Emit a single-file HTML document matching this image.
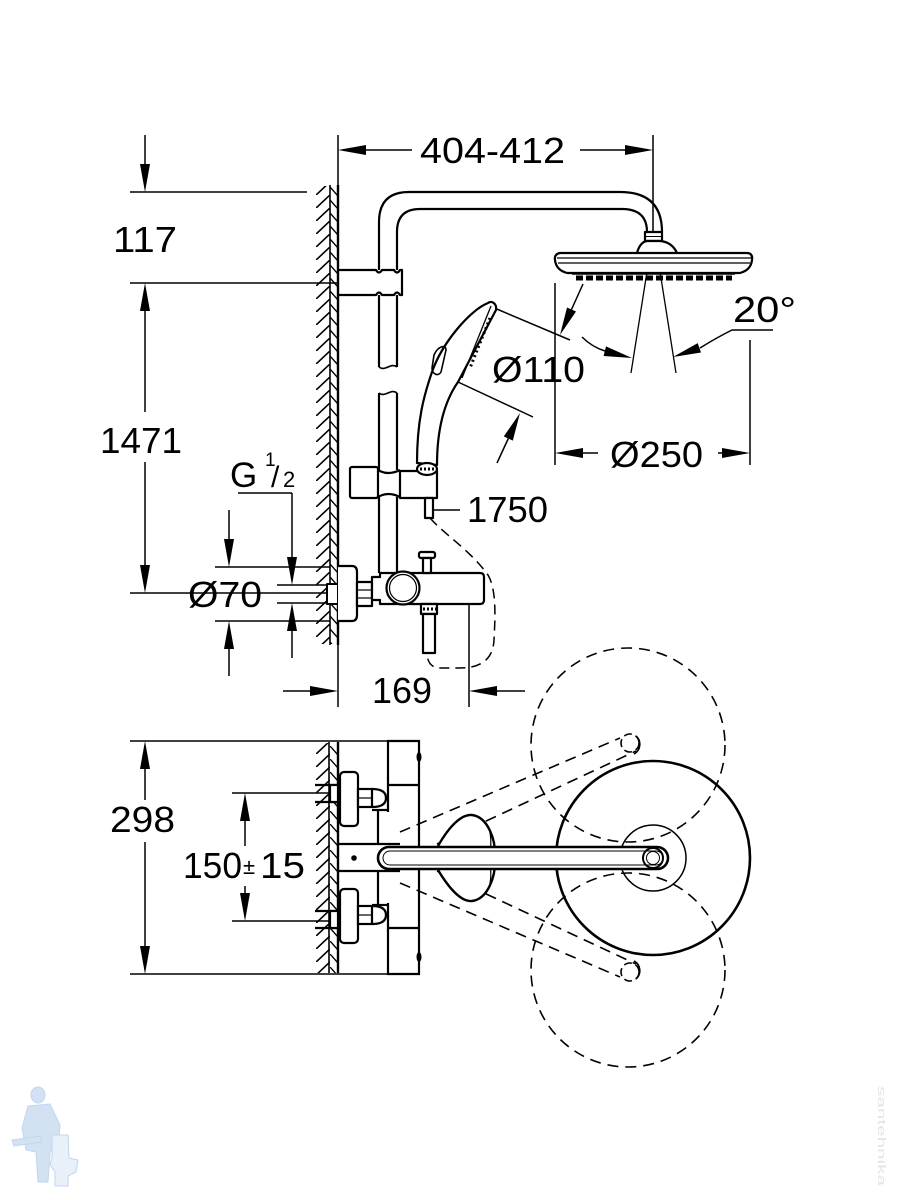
<!DOCTYPE html>
<html><head><meta charset="utf-8"><style>
html,body{margin:0;padding:0;background:#fff;}
svg{display:block;}
text{font-family:"Liberation Sans",Arial,sans-serif;fill:#000;}
</style></head><body>
<svg width="900" height="1200" viewBox="0 0 900 1200" xmlns="http://www.w3.org/2000/svg">
<defs>
<pattern id="h1" patternUnits="userSpaceOnUse" x="316" y="0" width="14" height="13"><path d="M-1,14 L15,-1" stroke="#000" stroke-width="1.6"/></pattern>
<pattern id="h2" patternUnits="userSpaceOnUse" x="330" y="5" width="8" height="13"><path d="M0,0 L8,9" stroke="#000" stroke-width="1.4"/></pattern>
</defs>
<rect width="900" height="1200" fill="#fff"/>

<!-- WALLS -->
<rect x="316" y="186" width="14" height="458" fill="url(#h1)"/>
<rect x="330" y="186" width="8" height="458" fill="url(#h2)"/>
<rect x="316" y="743" width="13" height="230" fill="url(#h1)"/>
<rect x="329" y="743" width="9" height="230" fill="url(#h2)"/>
<g stroke="#000" fill="none">
<line x1="330" y1="185" x2="330" y2="645" stroke-width="1.6"/>
<line x1="338" y1="185" x2="338" y2="645" stroke-width="2.4"/>
<line x1="329" y1="742" x2="329" y2="973" stroke-width="1.6"/>
<line x1="338" y1="742" x2="338" y2="973" stroke-width="2.4"/>
</g>

<!-- DIMENSIONS -->
<g stroke="#000" stroke-width="1.5" fill="none">
<!-- 117 / 1471 -->
<line x1="145" y1="135" x2="145" y2="165"/>
<line x1="130" y1="192" x2="307" y2="192"/>
<line x1="130" y1="283" x2="338" y2="283"/>
<line x1="145" y1="311" x2="145" y2="412"/>
<line x1="145" y1="462" x2="145" y2="566"/>
<line x1="130" y1="593" x2="330" y2="593"/>
<!-- Ø70 -->
<line x1="229" y1="510" x2="229" y2="540"/>
<line x1="215" y1="567" x2="330" y2="567"/>
<line x1="215" y1="621" x2="330" y2="621"/>
<line x1="229" y1="648" x2="229" y2="676"/>
<!-- G1/2 -->
<line x1="238" y1="493" x2="292" y2="493"/>
<line x1="292" y1="493" x2="292" y2="558"/>
<line x1="292" y1="630" x2="292" y2="658"/>
<line x1="277" y1="585" x2="327" y2="585"/>
<line x1="277" y1="603" x2="327" y2="603"/>
<!-- 404-412 -->
<line x1="338" y1="135" x2="338" y2="186"/>
<line x1="338" y1="644" x2="338" y2="707"/>
<line x1="653" y1="135" x2="653" y2="232"/>
<line x1="365" y1="150" x2="412" y2="150"/>
<line x1="580" y1="150" x2="626" y2="150"/>
<!-- Ø250 -->
<line x1="555" y1="283" x2="555" y2="465"/>
<line x1="750" y1="340" x2="750" y2="465"/>
<line x1="582" y1="453" x2="598" y2="453"/>
<line x1="718" y1="453" x2="723" y2="453"/>
<!-- Ø110 -->
<line x1="492" y1="307" x2="570" y2="340"/>
<line x1="458" y1="382" x2="533" y2="417"/>
<line x1="583" y1="284" x2="571.5" y2="309.5"/>
<line x1="497" y1="463" x2="508.3" y2="438.5"/>
<!-- 20° -->
<line x1="652" y1="240" x2="631" y2="373" stroke-width="1.3"/>
<line x1="655" y1="240" x2="676" y2="373" stroke-width="1.3"/>
<path d="M582,337 Q592,347 605,351"/>
<path d="M773,330 L732,330 Q716,338 700,348"/>
<!-- 169 -->
<line x1="469" y1="604" x2="469" y2="707"/>
<line x1="283" y1="691" x2="311" y2="691"/>
<line x1="496" y1="691" x2="525" y2="691"/>
<!-- 1750 -->
<line x1="433" y1="510" x2="460" y2="510"/>
<!-- 298 -->
<line x1="130" y1="741" x2="388" y2="741"/>
<line x1="130" y1="974" x2="388" y2="974"/>
<line x1="145" y1="768" x2="145" y2="800"/>
<line x1="145" y1="842" x2="145" y2="947"/>
<!-- 150±15 -->
<line x1="232" y1="793" x2="330" y2="793"/>
<line x1="232" y1="921" x2="330" y2="921"/>
<line x1="245" y1="820" x2="245" y2="846"/>
<line x1="245" y1="886" x2="245" y2="894"/>
</g>

<!-- ARROWHEADS -->
<g fill="#000">
<polygon points="145,192 140,164 150,164"/>
<polygon points="145,283 140,311 150,311"/>
<polygon points="145,593 140,565 150,565"/>
<polygon points="229,567 224,539 234,539"/>
<polygon points="229,621 224,649 234,649"/>
<polygon points="292,585 287,557 297,557"/>
<polygon points="292,603 287,631 297,631"/>
<polygon points="338,150 366,145 366,155"/>
<polygon points="653,150 625,145 625,155"/>
<polygon points="555,453 583,448 583,458"/>
<polygon points="750,453 722,448 722,458"/>
<polygon points="560,335 576,311.5 567,307.5"/>
<polygon points="520,413 512.8,440.6 503.8,436.4"/>
<polygon points="632,358 603.6,356 606,346.4"/>
<polygon points="673,357 701,352.5 697.7,343.1"/>
<polygon points="338,691 310,686 310,696"/>
<polygon points="469,691 497,686 497,696"/>
<polygon points="145,741 140,769 150,769"/>
<polygon points="145,974 140,946 150,946"/>
<polygon points="245,793 240,821 250,821"/>
<polygon points="245,921 240,893 250,893"/>
</g>

<!-- TEXT -->
<text x="420" y="163" font-size="36" textLength="145" lengthAdjust="spacingAndGlyphs">404-412</text>
<text x="113" y="252" font-size="36" textLength="64" lengthAdjust="spacingAndGlyphs">117</text>
<text x="100" y="453" font-size="36" textLength="82" lengthAdjust="spacingAndGlyphs">1471</text>
<text x="230" y="487" font-size="35">G</text>
<text x="265" y="466" font-size="19">1</text>
<text x="271" y="487" font-size="30">/</text>
<text x="283" y="487" font-size="22">2</text>
<text x="188" y="607" font-size="36" textLength="74" lengthAdjust="spacingAndGlyphs">Ø70</text>
<text x="467" y="522" font-size="36" textLength="81" lengthAdjust="spacingAndGlyphs">1750</text>
<text x="372" y="703" font-size="36" textLength="60" lengthAdjust="spacingAndGlyphs">169</text>
<text x="492" y="382" font-size="36" textLength="93" lengthAdjust="spacingAndGlyphs">Ø110</text>
<text x="610" y="467" font-size="36" textLength="93" lengthAdjust="spacingAndGlyphs">Ø250</text>
<text x="733" y="322" font-size="36" textLength="63" lengthAdjust="spacingAndGlyphs">20°</text>
<text x="110" y="832" font-size="36" textLength="65" lengthAdjust="spacingAndGlyphs">298</text>
<text x="183" y="878" font-size="36" textLength="59" lengthAdjust="spacingAndGlyphs">150</text>
<text x="243" y="874" font-size="22">±</text>
<text x="260" y="878" font-size="36" textLength="45" lengthAdjust="spacingAndGlyphs">15</text>

<!-- SIDE VIEW OBJECT -->
<g stroke="#000" stroke-width="2.2" fill="none" stroke-linejoin="round">
<!-- elbow -->
<path d="M379,270 L379,222 Q379,192 409,192 L620,192 Q662,192 662,232"/>
<path d="M397,270 L397,232 Q397,209 420,209 L622,209 Q647,209 647,232"/>
<rect x="645" y="232" width="17" height="9" fill="#fff"/>
<line x1="645" y1="236.5" x2="662" y2="236.5" stroke-width="1"/>
<path d="M637,253 Q640,242 647,241 L660,241 Q672,242 677,253" fill="#fff"/>
<path d="M560,253 L748,253 Q753,254 752,260 Q751,270 740,273 L567,273 Q556,270 555,260 Q554,254 560,253 Z" fill="#fff"/>
<line x1="557" y1="258" x2="751" y2="258" stroke-width="1.2"/>
<line x1="558" y1="263" x2="750" y2="263" stroke-width="1.2"/>
<line x1="572" y1="274" x2="735" y2="274" stroke-width="1.5"/>
<line x1="576" y1="278" x2="732" y2="278" stroke-width="5" stroke-dasharray="7 3"/>
<!-- bracket -->
<path d="M338,270 L376,270 Q379,275 382,270 L394,270 Q397,275 400,270 L402,270 L402,295 L400,295 Q397,290 394,295 L382,295 Q379,290 376,295 L338,295"/>
<!-- rail -->
<line x1="379" y1="295" x2="379" y2="367"/>
<line x1="397" y1="295" x2="397" y2="367"/>
<path d="M379,367 C385,372 391,362 397,367" stroke-width="1.6"/>
<path d="M379,393 C385,398 391,388 397,393" stroke-width="1.6"/>
<line x1="379" y1="393" x2="379" y2="470"/>
<line x1="397" y1="393" x2="397" y2="470"/>
<line x1="379" y1="497" x2="379" y2="573"/>
<line x1="397" y1="497" x2="397" y2="573"/>
<!-- slider -->
<rect x="350" y="467" width="28" height="31" rx="2" fill="#fff"/>
<path d="M378,470 Q388,476 400,470 M378,497 Q388,491 400,497"/>
<rect x="400" y="471" width="37" height="27" fill="#fff"/>
<rect x="425" y="498" width="8" height="20" fill="#fff"/>
<!-- hand shower -->
<path d="M488,303 C470,310 442,343 432,372 C424,395 417,420 417,463 L437,465 C437,435 442,405 458,382 L496,310 C497,304 492,300 488,303 Z" fill="#fff"/>
<path d="M491,306 L462,378" stroke-width="1.3"/>
<path d="M434,355 C438,346 446,344 446,350 L441,372 C438,377 432,374 432,368 Z" stroke-width="1.6"/>
<line x1="490" y1="318" x2="470" y2="368" stroke-width="3" stroke-dasharray="2 3"/>
<ellipse cx="427" cy="469" rx="10" ry="6" fill="#fff"/>
<line x1="420" y1="469" x2="434" y2="469" stroke-width="3" stroke-dasharray="2 2"/>
<!-- hose -->
<path d="M430,518 C445,535 470,550 488,575 C497,590 495,620 494,640 C493,660 480,668 460,668 L440,668 C430,668 427,660 427,653" stroke-width="1.5" stroke-dasharray="10 6"/>
<!-- mixer -->
<rect x="327" y="584" width="11" height="20" stroke-width="2" fill="#fff"/>
<path d="M338,566 L352,566 Q357,566 357,572 L357,615 Q357,621 352,621 L338,621" fill="#fff"/>
<rect x="357" y="582" width="15" height="24" fill="#fff"/>
<line x1="358" y1="590" x2="371" y2="590" stroke-width="1.2"/>
<line x1="358" y1="598" x2="371" y2="598" stroke-width="1.2"/>
<path d="M372,577 L380,577 L380,573 L480,573 Q484,573 484,577 L484,600 Q484,604 480,604 L380,604 L380,600 L372,600 Z" fill="#fff"/>
<circle cx="403" cy="588" r="16.5" fill="#fff"/>
<circle cx="403" cy="588" r="13.5" stroke-width="1.2"/>
<rect x="419" y="552" width="16" height="6" rx="2" fill="#fff"/>
<rect x="423" y="558" width="8" height="15" fill="#fff"/>
<rect x="421" y="604" width="16" height="10" fill="#fff"/>
<line x1="423" y1="609" x2="436" y2="609" stroke-width="3" stroke-dasharray="2 2"/>
<rect x="423" y="614" width="12" height="39" fill="#fff"/>
</g>

<!-- PLAN VIEW -->
<g stroke="#000" fill="none">
<circle cx="628" cy="745" r="97" stroke-width="1.6" stroke-dasharray="11 7"/>
<circle cx="628" cy="970" r="97" stroke-width="1.6" stroke-dasharray="11 7"/>
<line x1="400" y1="832" x2="620" y2="738" stroke-width="1.6" stroke-dasharray="11 7"/>
<line x1="437" y1="844" x2="636" y2="751" stroke-width="1.6" stroke-dasharray="11 7"/>
<line x1="400" y1="883" x2="620" y2="977" stroke-width="1.6" stroke-dasharray="11 7"/>
<line x1="437" y1="871" x2="636" y2="964" stroke-width="1.6" stroke-dasharray="11 7"/>
<circle cx="630" cy="743" r="9" stroke-width="1.6" stroke-dasharray="8 4"/>
<path d="M636,736 A11,11 0 0 1 634,754" stroke-width="1.6"/>
<circle cx="630" cy="972" r="9" stroke-width="1.6" stroke-dasharray="8 4"/>
<path d="M636,979 A11,11 0 0 0 634,961" stroke-width="1.6"/>
<circle cx="653" cy="858" r="97" stroke-width="2.6"/>
<circle cx="653" cy="858" r="33" stroke-width="1.5"/>
<!-- mixer plan -->
<g stroke-width="2.2">
<path d="M388,812 L388,741 L419,741 L419,974 L388,974 L388,903"/>
<line x1="388" y1="785" x2="419" y2="785"/>
<line x1="388" y1="928" x2="419" y2="928"/>
<line x1="378" y1="810" x2="378" y2="845"/>
<line x1="378" y1="870" x2="378" y2="905"/>
<line x1="372" y1="810" x2="388" y2="810"/>
<line x1="372" y1="905" x2="388" y2="905"/>
<line x1="315" y1="785" x2="340" y2="785"/>
<line x1="315" y1="802" x2="340" y2="802"/>
<line x1="315" y1="911" x2="340" y2="911"/>
<line x1="315" y1="928" x2="340" y2="928"/>
<rect x="330" y="785" width="8" height="17" fill="#fff"/>
<rect x="330" y="911" width="8" height="17" fill="#fff"/>
<rect x="340" y="772" width="18" height="54" rx="4" fill="#fff"/>
<rect x="340" y="889" width="18" height="54" rx="4" fill="#fff"/>
<rect x="358" y="789" width="14" height="18" fill="#fff"/>
<rect x="358" y="906" width="14" height="18" fill="#fff"/>
<line x1="358" y1="798" x2="372" y2="798" stroke-width="1.2"/>
<line x1="358" y1="915" x2="372" y2="915" stroke-width="1.2"/>
<path d="M372,789 Q386,789 386,798 Q386,807 372,807"/>
<path d="M372,906 Q386,906 386,915 Q386,924 372,924"/>
<line x1="338" y1="844" x2="400" y2="844"/>
<line x1="338" y1="871" x2="400" y2="871"/>
</g>
<ellipse cx="419" cy="757" rx="2.5" ry="5" fill="#000" stroke="none"/>
<ellipse cx="419" cy="957" rx="2.5" ry="5" fill="#000" stroke="none"/>
<circle cx="354" cy="858" r="2.8" fill="#000" stroke="none"/>
<!-- teardrop hand shower -->
<path d="M438,846 C450,825 462,814 472,815 C488,817 496,840 495,858 C496,876 488,899 472,901 C462,902 450,890 438,870" stroke-width="2.4" fill="#fff"/>
<path d="M489,828 C492,840 491,850 488,858 C491,866 492,876 489,888" stroke-width="1.2"/>
<!-- bar -->
<rect x="378" y="847" width="290" height="22" rx="11" stroke-width="2.6" fill="#fff"/>
<rect x="383" y="851" width="280" height="14" rx="7" stroke-width="1"/>
<circle cx="653" cy="858" r="10" stroke-width="2"/>
<circle cx="653" cy="858" r="6.5" stroke-width="1"/>
</g>

<!-- WATERMARKS -->
<g fill="#d2e2f3" stroke="#c2d6ee" stroke-width="1">
<ellipse cx="38" cy="1095" rx="7" ry="8"/>
<path d="M28,1106 L50,1104 L60,1125 L58,1150 L50,1152 L48,1182 L38,1182 L36,1152 L26,1150 L22,1128 Z"/>
<path d="M12,1140 L40,1136 L42,1142 L14,1146 Z"/>
<path d="M52,1135 L68,1135 L69,1158 L78,1160 L76,1172 L68,1176 L68,1186 L55,1186 L55,1172 L50,1165 L52,1158 Z" fill="#e8f0fa"/>
</g>
<text x="0" y="0" font-size="11" fill="#e6e6e6" transform="translate(878,1086) rotate(90)" textLength="100" lengthAdjust="spacingAndGlyphs" style="fill:#e4e4e4">santehnika</text>
</svg>
</body></html>
